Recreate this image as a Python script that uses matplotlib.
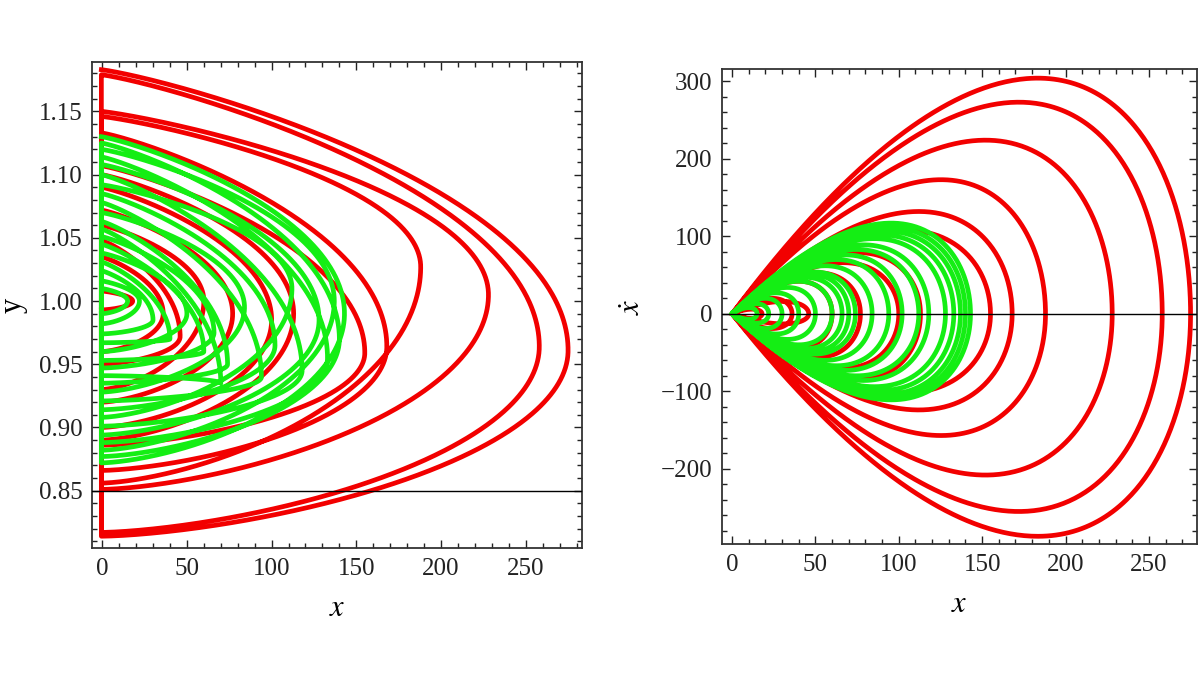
import numpy as np
import matplotlib.pyplot as plt
from matplotlib.ticker import MultipleLocator, FormatStrFormatter

plt.rcParams['font.family'] = ['Liberation Serif', 'DejaVu Serif']
plt.rcParams['mathtext.fontset'] = 'stix'

# Each orbit is a run of excursions in x that start and end near x = 0.
# Per excursion: largest x, y at that point, y at the start / end near x = 0,
# and the largest positive / negative xdot on the way out / back.
red_xmax = [275, 258, 228, 188, 168, 155, 113, 100, 77, 60, 46, 36, 18]
red_yapex = [0.961, 0.964, 1.005, 1.027, 0.964, 0.959, 0.990, 0.985, 0.990, 1.000, 0.972, 0.990, 1.000]
red_ytop = [1.183, 1.179, 1.150, 1.146, 1.133, 1.107, 1.100, 1.090, 1.072, 1.060, 1.048, 1.035, 1.008]
red_ybot = [0.814, 0.817, 0.851, 0.856, 0.866, 0.886, 0.890, 0.900, 0.920, 0.930, 0.950, 0.960, 0.993]
red_vtop = [304, 273, 224, 173, 132, 108, 79, 66, 53, 42, 16, 20, 6]
red_vbot = [287, 255, 208, 157, 124, 102, 85, 70, 56, 44, 13, 19, 6]

green_xmax = [143, 140, 137, 133, 128, 118, 112, 102, 94, 84, 74, 70, 66, 60, 50, 40, 30, 22, 15]
green_yapex = [0.990, 0.970, 1.000, 0.955, 0.985, 0.945, 1.010, 0.965, 0.940, 0.995, 0.950,
               0.935, 0.975, 0.960, 0.990, 0.970, 0.985, 1.000, 1.000]
green_ytop = [1.130, 1.125, 1.120, 1.114, 1.108, 1.100, 1.092, 1.085, 1.078, 1.070, 1.063,
              1.057, 1.051, 1.045, 1.038, 1.031, 1.024, 1.016, 1.010]
green_ybot = [0.872, 0.877, 0.882, 0.888, 0.894, 0.901, 0.908, 0.914, 0.921, 0.928, 0.935,
              0.941, 0.947, 0.953, 0.960, 0.967, 0.974, 0.982, 0.990]
green_vtop = [117, 112, 107, 102, 97, 89, 83, 76, 70, 62, 54, 51, 47, 42, 34, 27, 20, 13, 8]
green_vbot = [111, 108, 104, 99, 94, 86, 80, 73, 67, 60, 52, 49, 45, 40, 33, 26, 19, 12, 7]

RED = '#f20000'
GREEN = '#14ee14'
X0 = -0.5               # where the orbits sit between excursions
PEAK = (2 / 3) * np.sqrt(1 / 3)


def lobe_xy(m, yapex, ytop, ybot):
    """ One excursion in the (x, y) plane: out along the top, back along the bottom. """
    v = np.sin(np.linspace(0, np.pi / 2, 300))
    g_up = (1 - v**2)**0.85
    g_dn = (1 - v**2)**0.65
    xu = X0 + (m - X0) * g_up[::-1]
    yu = yapex + (ytop - yapex) * v[::-1]
    xd = X0 + (m - X0) * g_dn
    yd = yapex - (yapex - ybot) * v
    return np.r_[xu, xd], np.r_[yu, yd]


def lobe_xv(m, vtop, vbot):
    """ The same excursion in the (x, xdot) plane. """
    s = np.sin(np.linspace(0, np.pi / 2, 300))**2
    shape = s * np.sqrt(1 - s) / PEAK
    x = m * s
    return np.r_[x, x[::-1]], np.r_[vtop * shape, -vbot * shape[::-1]]


def orbit(xmax, yapex, ytop, ybot, vtop, vbot):
    xs, ys, xv, vv = [], [], [], []
    for i in range(len(xmax)):
        a, b = lobe_xy(xmax[i], yapex[i], ytop[i], ybot[i])
        c, d = lobe_xv(xmax[i], vtop[i], vbot[i])
        xs.append(a)
        ys.append(b)
        xv.append(c)
        vv.append(d)
    return np.concatenate(xs), np.concatenate(ys), np.concatenate(xv), np.concatenate(vv)


def style(ax):
    ax.tick_params(which='both', direction='in', top=True, right=True,
                   labelsize=18, colors='#222222', width=1)
    ax.tick_params(which='major', length=6, pad=7)
    ax.tick_params(which='minor', length=3.5)
    for sp in ax.spines.values():
        sp.set_linewidth(1.3)
        sp.set_color('#333333')


fig = plt.figure(figsize=(12, 6.75), dpi=100)
ax1 = fig.add_axes([0.0767, 0.188, 0.408, 0.72])
ax2 = fig.add_axes([0.6017, 0.194, 0.396, 0.704])

rx, ry, rxv, rv = orbit(red_xmax, red_yapex, red_ytop, red_ybot, red_vtop, red_vbot)
gx, gy, gxv, gv = orbit(green_xmax, green_yapex, green_ytop, green_ybot, green_vtop, green_vbot)

lw = 3.4
ax1.plot(rx, ry, color=RED, lw=lw, solid_joinstyle='round', zorder=2)
ax1.plot(gx, gy, color=GREEN, lw=lw, solid_joinstyle='round', zorder=3)
ax1.axhline(0.85, color='k', lw=1, zorder=4)

ax2.plot(rxv, rv, color=RED, lw=lw, solid_joinstyle='round', zorder=2)
ax2.plot(gxv, gv, color=GREEN, lw=lw, solid_joinstyle='round', zorder=3)
ax2.axhline(0, color='k', lw=1, zorder=4)

ax1.set_xlim(-6, 283)
ax1.set_ylim(0.8046, 1.189)
ax1.xaxis.set_major_locator(MultipleLocator(50))
ax1.xaxis.set_minor_locator(MultipleLocator(10))
ax1.yaxis.set_major_locator(MultipleLocator(0.05))
ax1.yaxis.set_minor_locator(MultipleLocator(0.01))
ax1.yaxis.set_major_formatter(FormatStrFormatter('%.2f'))
ax1.set_xlabel('$x$', fontsize=22, labelpad=10)
ax1.set_ylabel('y', fontsize=22, labelpad=8)
style(ax1)

ax2.set_xlim(-6, 279)
ax2.set_ylim(-297, 316)
ax2.xaxis.set_major_locator(MultipleLocator(50))
ax2.xaxis.set_minor_locator(MultipleLocator(10))
ax2.yaxis.set_major_locator(MultipleLocator(100))
ax2.yaxis.set_minor_locator(MultipleLocator(20))
ax2.set_xlabel('$x$', fontsize=22, labelpad=10)
ax2.set_ylabel(r'$\dot{x}$', fontsize=22, labelpad=10)
style(ax2)

fig.savefig('out.png', dpi=100, facecolor='white')
